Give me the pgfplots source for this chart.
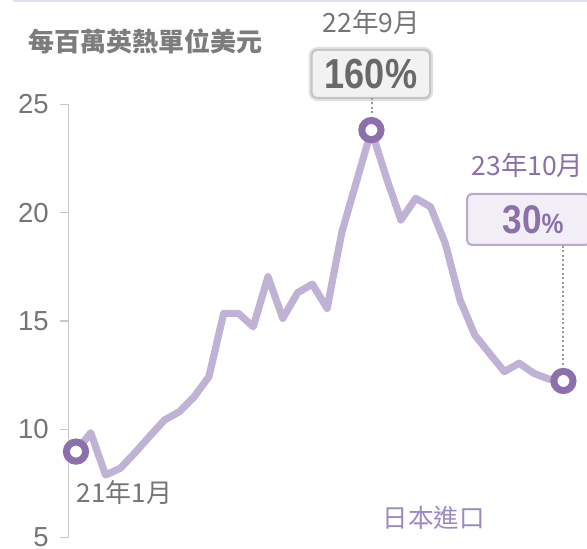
\documentclass[border=0pt]{standalone}
\usepackage{pgfplots}
\pgfplotsset{compat=1.18}
\usepackage{pgfplotstable}
\usepackage{graphicx}
\usepackage{fontspec}
\setmainfont{Liberation Sans}
\newfontfamily\cjk{Noto Sans CJK TC}
\definecolor{lineC}{HTML}{BFB2D5}
\definecolor{markC}{HTML}{8B70AC}
\definecolor{txtG}{HTML}{757575}
\definecolor{axG}{HTML}{C8C8C8}
\definecolor{boxF}{HTML}{F2F2F2}
\definecolor{boxB}{HTML}{C4C4C4}
\definecolor{pBoxF}{HTML}{F1EEF6}
\definecolor{pBoxB}{HTML}{B8A8D2}
\definecolor{pTxt}{HTML}{8B70AC}
\definecolor{pLight}{HTML}{9C88C2}
\definecolor{topL}{HTML}{E4DDF0}
\pgfplotstableread{
m v
0 8.97
1 9.84
2 7.89
3 8.20
4 8.92
5 9.69
6 10.43
7 10.81
8 11.50
9 12.43
10 15.35
11 15.35
12 14.73
13 17.04
14 15.12
15 16.30
16 16.70
17 15.58
18 19.10
19 21.46
20 23.81
21 21.64
22 19.66
23 20.66
24 20.27
25 18.58
26 15.97
27 14.35
28 13.50
29 12.66
30 13.05
31 12.58
32 12.32
33 12.23
}\lngdata
\pgfplotstableread{
m v
0 8.97
20 23.81
33 12.23
}\markdata
\begin{document}
\begin{tikzpicture}[x=1pt,y=1pt]
\path[use as bounding box] (0,0) rectangle (587,549);
\draw[topL, line width=3pt, line cap=round] (14,548.5) -- (600,548.5);
\begin{axis}[
  at={(68.3pt,11.4pt)}, anchor=south west,
  scale only axis, width=509.9pt, height=433.3pt,
  xmin=-0.52, xmax=34, ymin=5, ymax=25,
  axis x line=none, axis y line*=left,
  y axis line style={axG, line width=1.5pt},
  ytick={5,10,15,20,25},
  tick align=outside, major tick length=8pt,
  ytick style={axG, line width=1.5pt},
  yticklabel style={font=\fontsize{27.5}{27.5}\selectfont, text=txtG, xshift=-8pt},
  /pgf/number format/assume math mode=true,
  clip=false,
]
\addplot[lineC, line width=7.2pt, line join=round, line cap=round] table[x=m,y=v]{\lngdata};
\addplot[only marks, mark=*, mark size=9.6pt, mark options={draw=markC, fill=white, line width=7pt}] table[x=m,y=v]{\markdata};
\end{axis}
% labels
\node[font=\cjk\bfseries\fontsize{26}{26}\selectfont, text=txtG!95!white, anchor=west, inner sep=0pt] at (28,508) {每百萬英熱單位美元};
\node[font=\cjk\fontsize{26.5}{26.5}\selectfont, text=txtG, inner sep=0pt] at (371.5,527) {22年9月};
\draw[black, opacity=0.12, line width=6pt, rounded corners=6pt] (311.7,451) rectangle (430,499);
\draw[boxB, fill=boxF, line width=2pt, rounded corners=5pt] (311.7,451) rectangle (430,499);
\node[text=txtG!90!black, inner sep=0pt] at (371,475) {\scalebox{0.86}[1]{\fontsize{42}{42}\selectfont\bfseries 160\%}};
\draw[gray!80, line width=2pt, dash pattern=on 2pt off 2.5pt] (372,451) -- (372,434);
\node[font=\cjk\fontsize{26.5}{26.5}\selectfont, text=pTxt, inner sep=0pt] at (527.5,384) {23年10月};
\draw[pBoxB, fill=pBoxF, line width=2pt, rounded corners=5pt] (467,304) rectangle (590,355);
\node[text=pTxt, inner sep=0pt] at (533,329.5) {\scalebox{0.88}[1]{\bfseries\fontsize{40}{40}\selectfont 30{\fontsize{28}{28}\selectfont\%}}};
\draw[gray!80, line width=2pt, dash pattern=on 2pt off 2.5pt] (563.3,303) -- (563.3,182);
\node[font=\cjk\fontsize{26}{26}\selectfont, text=txtG, inner sep=0pt] at (124.5,56) {21年1月};
\node[font=\cjk\fontsize{25.5}{25.5}\selectfont, text=pLight, inner sep=0pt] at (433.5,31) {日本進口};
\end{tikzpicture}
\end{document}
